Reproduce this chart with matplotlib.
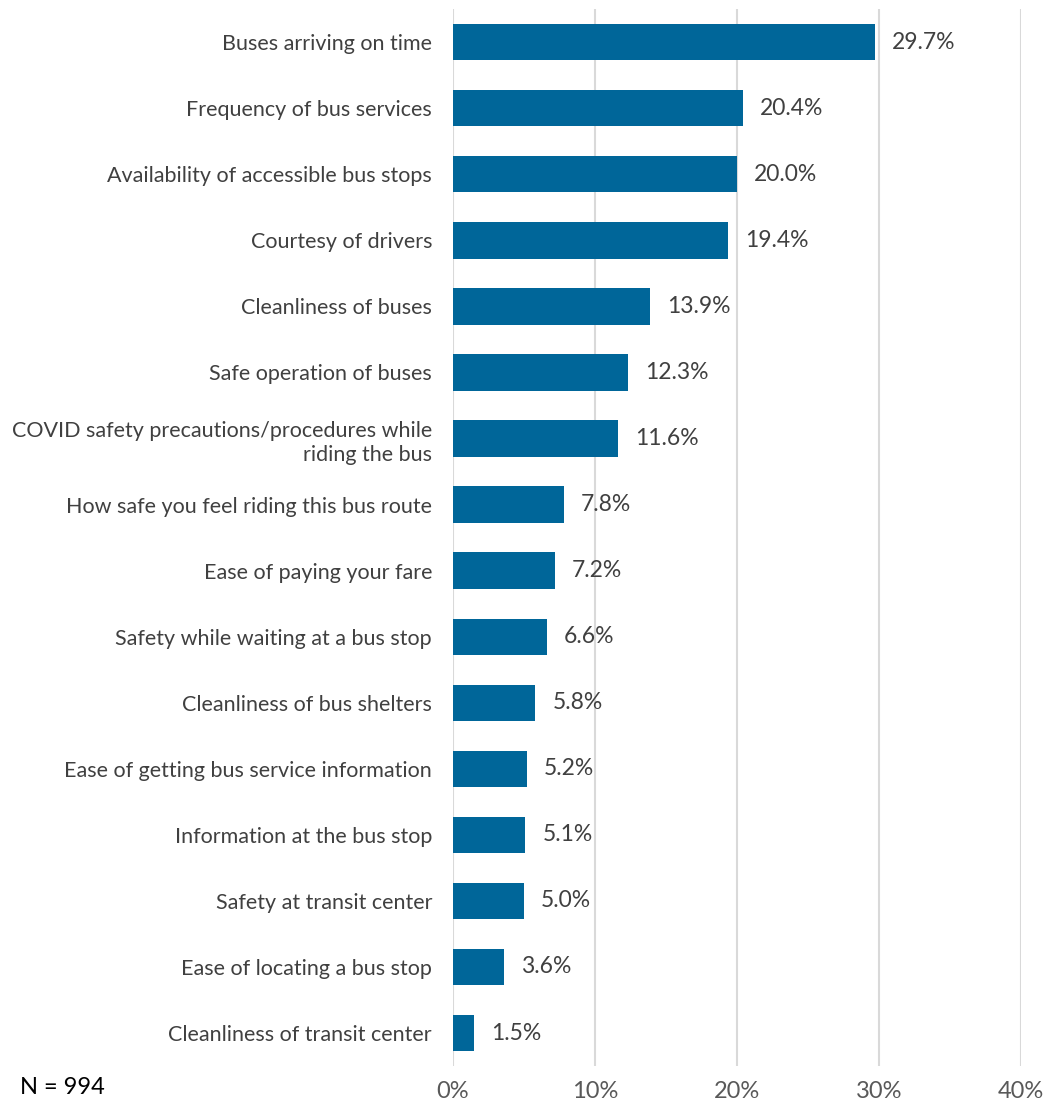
import matplotlib.pyplot as plt
from matplotlib.ticker import PercentFormatter

# survey items, top to bottom
labels = [
    'Buses arriving on time',
    'Frequency of bus services',
    'Availability of accessible bus stops',
    'Courtesy of drivers',
    'Cleanliness of buses',
    'Safe operation of buses',
    'COVID safety precautions/procedures while\nriding the bus',
    'How safe you feel riding this bus route',
    'Ease of paying your fare',
    'Safety while waiting at a bus stop',
    'Cleanliness of bus shelters',
    'Ease of getting bus service information',
    'Information at the bus stop',
    'Safety at transit center',
    'Ease of locating a bus stop',
    'Cleanliness of transit center',
]
values = [29.7, 20.4, 20.0, 19.4, 13.9, 12.3, 11.6, 7.8, 7.2, 6.6, 5.8, 5.2, 5.1, 5.0, 3.6, 1.5]
xticks = [0, 10, 20, 30, 40]

plt.rcParams['font.family'] = ['Lato', 'DejaVu Sans']

fig = plt.figure(figsize=(10.49, 11.03), dpi=100)
ax = fig.add_axes([0.4318, 0.0335, 0.5415, 0.9582])

ypos = list(range(len(labels)))[::-1]
ax.barh(ypos, values, height=0.55, color='#006699', zorder=3)

for y, v in zip(ypos, values):
    ax.text(v + 1.2, y, f'{v:.1f}%', va='center', ha='left',
            fontsize=16.5, color='#404040')

ax.set_xlim(0, 40)
ax.set_ylim(-0.5, len(labels) - 0.5)
ax.set_xticks(xticks)
ax.xaxis.set_major_formatter(PercentFormatter(decimals=0))
ax.set_yticks(ypos)
ax.set_yticklabels(labels, fontsize=15.5, color='#404040', linespacing=1.3)
ax.tick_params(axis='y', length=0, pad=15)
ax.tick_params(axis='x', length=0, pad=11, labelsize=17, labelcolor='#595959')
ax.grid(axis='x', color='#d9d9d9', linewidth=1.5, zorder=0)
for s in ax.spines.values():
    s.set_visible(False)

fig.text(20 / 1049, 1 - 1088 / 1103, 'N = 994', fontsize=17, color='black',
         va='center', ha='left')

fig.savefig('out.png', dpi=100)
